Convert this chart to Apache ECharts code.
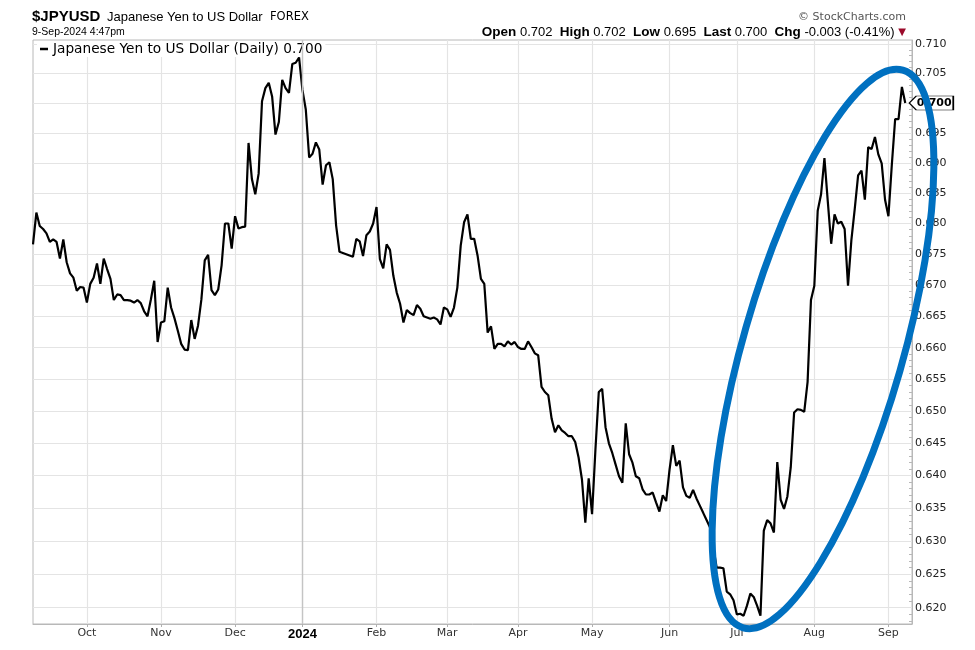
<!DOCTYPE html>
<html><head><meta charset="utf-8">
<script src="https://cdn.jsdelivr.net/npm/echarts@6/dist/echarts.min.js"></script>
<style>html,body{margin:0;padding:0;background:#fff}#c{width:975px;height:650px}</style>
</head><body><div id="c"></div>
<script>
const dates = [
'2023-09-08','2023-09-11','2023-09-12','2023-09-13','2023-09-14','2023-09-15','2023-09-18','2023-09-19','2023-09-20','2023-09-21','2023-09-22','2023-09-25','2023-09-26','2023-09-27','2023-09-28','2023-09-29',
'2023-10-02','2023-10-03','2023-10-04','2023-10-05','2023-10-06','2023-10-09','2023-10-10','2023-10-11','2023-10-12','2023-10-13','2023-10-16','2023-10-17','2023-10-18','2023-10-19','2023-10-20','2023-10-23','2023-10-24','2023-10-25','2023-10-26','2023-10-27','2023-10-30','2023-10-31',
'2023-11-01','2023-11-02','2023-11-03','2023-11-06','2023-11-07','2023-11-08','2023-11-09','2023-11-10','2023-11-13','2023-11-14','2023-11-15','2023-11-16','2023-11-17','2023-11-20','2023-11-21','2023-11-22','2023-11-23','2023-11-24','2023-11-27','2023-11-28','2023-11-29','2023-11-30',
'2023-12-01','2023-12-04','2023-12-05','2023-12-06','2023-12-07','2023-12-08','2023-12-11','2023-12-12','2023-12-13','2023-12-14','2023-12-15','2023-12-18','2023-12-19','2023-12-20','2023-12-21','2023-12-22','2023-12-26','2023-12-27','2023-12-28','2023-12-29',
'2024-01-02','2024-01-03','2024-01-04','2024-01-05','2024-01-08','2024-01-09','2024-01-10','2024-01-11','2024-01-12','2024-01-15','2024-01-16','2024-01-17','2024-01-18','2024-01-19','2024-01-22','2024-01-23','2024-01-24','2024-01-25','2024-01-26','2024-01-29','2024-01-30','2024-01-31',
'2024-02-01','2024-02-02','2024-02-05','2024-02-06','2024-02-07','2024-02-08','2024-02-09','2024-02-12','2024-02-13','2024-02-14','2024-02-15','2024-02-16','2024-02-19','2024-02-20','2024-02-21','2024-02-22','2024-02-23','2024-02-26','2024-02-27','2024-02-28','2024-02-29',
'2024-03-01','2024-03-04','2024-03-05','2024-03-06','2024-03-07','2024-03-08','2024-03-11','2024-03-12','2024-03-13','2024-03-14','2024-03-15','2024-03-18','2024-03-19','2024-03-20','2024-03-21','2024-03-22','2024-03-25','2024-03-26','2024-03-27','2024-03-28','2024-03-29',
'2024-04-01','2024-04-02','2024-04-03','2024-04-04','2024-04-05','2024-04-08','2024-04-09','2024-04-10','2024-04-11','2024-04-12','2024-04-15','2024-04-16','2024-04-17','2024-04-18','2024-04-19','2024-04-22','2024-04-23','2024-04-24','2024-04-25','2024-04-26','2024-04-29','2024-04-30',
'2024-05-01','2024-05-02','2024-05-03','2024-05-06','2024-05-07','2024-05-08','2024-05-09','2024-05-10','2024-05-13','2024-05-14','2024-05-15','2024-05-16','2024-05-17','2024-05-20','2024-05-21','2024-05-22','2024-05-23','2024-05-24','2024-05-27','2024-05-28','2024-05-29','2024-05-30','2024-05-31',
'2024-06-03','2024-06-04','2024-06-05','2024-06-06','2024-06-07','2024-06-10','2024-06-11','2024-06-12','2024-06-13','2024-06-14','2024-06-17','2024-06-18','2024-06-19','2024-06-20','2024-06-21','2024-06-24','2024-06-25','2024-06-26','2024-06-27','2024-06-28',
'2024-07-01','2024-07-02','2024-07-03','2024-07-04','2024-07-05','2024-07-08','2024-07-09','2024-07-10','2024-07-11','2024-07-12','2024-07-15','2024-07-16','2024-07-17','2024-07-18','2024-07-19','2024-07-22','2024-07-23','2024-07-24','2024-07-25','2024-07-26','2024-07-29','2024-07-30','2024-07-31',
'2024-08-01','2024-08-02','2024-08-05','2024-08-06','2024-08-07','2024-08-08','2024-08-09','2024-08-12','2024-08-13','2024-08-14','2024-08-15','2024-08-16','2024-08-19','2024-08-20','2024-08-21','2024-08-22','2024-08-23','2024-08-26','2024-08-27','2024-08-28','2024-08-29','2024-08-30',
'2024-09-02','2024-09-03','2024-09-04','2024-09-05','2024-09-06','2024-09-09'
];

const closeValues = [
0.6766,0.6818,0.6796,0.6791,0.6784,0.6770,0.6774,0.6770,0.6743,0.6774,
0.6737,0.6719,0.6712,0.6691,0.6697,0.6696,0.6672,0.6702,0.6712,0.6735,
0.6702,0.6743,0.6726,0.6710,0.6676,0.6685,0.6684,0.6676,0.6676,0.6675,
0.6672,0.6676,0.6671,0.6658,0.6650,0.6677,0.6707,0.6609,0.6640,0.6642,
0.6696,0.6664,0.6647,0.6627,0.6606,0.6597,0.6596,0.6644,0.6614,0.6635,
0.6677,0.6740,0.6749,0.6692,0.6684,0.6693,0.6732,0.6800,0.6800,0.6759,
0.6812,0.6792,0.6794,0.6795,0.6933,0.6873,0.6848,0.6882,0.7003,0.7025,
0.7034,0.7011,0.6947,0.6968,0.7039,0.7025,0.7017,0.7066,0.7068,0.7077,
0.7022,0.6989,0.6909,0.6915,0.6934,0.6922,0.6864,0.6896,0.6901,0.6873,
0.6797,0.6754,0.6752,0.6750,0.6748,0.6746,0.6775,0.6771,0.6747,0.6781,
0.6787,0.6800,0.6827,0.6742,0.6727,0.6766,0.6757,0.6715,0.6688,0.6670,
0.6640,0.6660,0.6655,0.6652,0.6668,0.6662,0.6650,0.6648,0.6646,0.6648,
0.6645,0.6637,0.6664,0.6661,0.6649,0.6664,0.6696,0.6764,0.6802,0.6815,
0.6775,0.6775,0.6748,0.6710,0.6702,0.6624,0.6634,0.6598,0.6606,0.6606,
0.6602,0.6610,0.6605,0.6609,0.6601,0.6598,0.6598,0.6610,0.6601,0.6591,
0.6588,0.6538,0.6530,0.6525,0.6488,0.6467,0.6478,0.6470,0.6466,0.6461,
0.6461,0.6452,0.6428,0.6394,0.6328,0.6396,0.6341,0.6440,0.6530,0.6535,
0.6475,0.6450,0.6435,0.6417,0.6399,0.6389,0.6481,0.6433,0.6420,0.6399,
0.6396,0.6379,0.6371,0.6371,0.6374,0.6359,0.6345,0.6370,0.6361,0.6409,
0.6447,0.6415,0.6423,0.6382,0.6369,0.6366,0.6378,0.6365,0.6354,0.6343,
0.6332,0.6321,0.6291,0.6260,0.6260,0.6259,0.6224,0.6220,0.6211,0.6190,
0.6191,0.6188,0.6203,0.6221,0.6216,0.6203,0.6188,0.6316,0.6332,0.6327,
0.6313,0.6421,0.6363,0.6349,0.6368,0.6413,0.6498,0.6503,0.6502,0.6499,
0.6546,0.6676,0.6699,0.6821,0.6848,0.6908,0.6836,0.6767,0.6815,0.6800,
0.6803,0.6791,0.6699,0.6773,0.6824,0.6879,0.6887,0.6839,0.6926,0.6923,
0.6943,0.6914,0.6899,0.6839,0.6812,0.6896,0.6973,0.6973,0.7027,0.7000
];

const tickLabels = ['0.620','0.625','0.630','0.635','0.640','0.645','0.650','0.655','0.660','0.665','0.670','0.675','0.680','0.685','0.690','0.695','0.700','0.705','0.710'];
const monthStarts = ['2023-10-02','2023-11-01','2023-12-01','2024-01-02','2024-02-01','2024-03-01','2024-04-01','2024-05-01','2024-06-03','2024-07-01','2024-08-01','2024-09-02'];
const monthLabels = ['Oct','Nov','Dec','2024','Feb','Mar','Apr','May','Jun','Jul','Aug','Sep'];
const yearStart = '2024-01-02';
const quoteNames = ['Open','High','Low','Last','Chg'];
const quoteValues = ['0.702','0.702','0.695','0.700','-0.003 (-0.41%)'];
const seriesName = 'Japanese Yen to US Dollar (Daily)';
const axisRange = [0.61757, 0.71068];

const chart = echarts.init(document.getElementById('c'), null, {renderer: 'canvas'});
const logData = closeValues.map(v => Math.log(v));
const tickVals = tickLabels.map(t => Math.log(parseFloat(t)));
const minorVals = [];
for (let k = 618; k <= 710; k++) { if (k % 5 !== 0) minorVals.push(Math.log(k / 1000)); }
const lastVal = closeValues[closeValues.length - 1];
const lastLabel = lastVal.toFixed(3);
const isMonthStart = (idx, val) => monthStarts.indexOf(val) >= 0;

const quoteRich = quoteNames.map((n, i) => '{b|' + n + '} {n|' + quoteValues[i] + '}').join('  ') + ' {r|▼}';

const option = {
  animation: false,
  textStyle: {fontFamily: 'DejaVu Sans'},
  grid: {left: 33, right: 63, top: 40, bottom: 26, show: true, borderColor: '#b8b8b8', borderWidth: 1, backgroundColor: 'transparent'},
  legend: {
    show: true, left: 37, top: 41, padding: [1, 3], itemGap: 4,
    icon: 'rect', itemWidth: 8, itemHeight: 2.5, backgroundColor: '#fff',
    textStyle: {fontFamily: 'DejaVu Sans', fontSize: 13.7, color: '#000'},
    formatter: name => name + ' ' + lastLabel,
    data: [seriesName]
  },
  xAxis: {
    type: 'category', data: dates, boundaryGap: false, max: dates.length + 1,
    axisLine: {show: true, lineStyle: {color: '#b8b8b8'}},
    axisTick: {show: true, interval: isMonthStart, length: 3, lineStyle: {color: '#b0b0b0'}},
    axisLabel: {
      interval: isMonthStart, margin: 4, color: '#333', fontFamily: 'DejaVu Sans', fontSize: 11,
      formatter: v => { const k = monthStarts.indexOf(v); return v === yearStart ? '{y|' + monthLabels[k] + '}' : monthLabels[k]; },
      rich: {y: {fontWeight: 'bold', fontSize: 13, fontFamily: 'Liberation Sans', color: '#000'}}
    },
    splitLine: {show: true, interval: isMonthStart, lineStyle: {color: '#e4e4e4', width: 1.2}}
  },
  yAxis: [{
    type: 'value', position: 'right', min: Math.log(axisRange[0]), max: Math.log(axisRange[1]),
    axisLine: {show: true, lineStyle: {color: '#b8b8b8'}},
    axisTick: {show: false, customValues: tickVals},
    axisLabel: {customValues: tickVals, margin: 3, color: '#222', fontFamily: 'DejaVu Sans', fontSize: 11,
      formatter: v => Math.exp(v).toFixed(3)},
    splitLine: {show: true, lineStyle: {color: '#e4e4e4', width: 1.2}}
  }, {
    type: 'value', position: 'right', min: Math.log(axisRange[0]), max: Math.log(axisRange[1]),
    axisLine: {show: false},
    axisTick: {show: true, inside: true, length: 3, customValues: minorVals, lineStyle: {color: '#b8b8b8'}},
    axisLabel: {show: false},
    splitLine: {show: false}
  }],
  series: [{
    name: seriesName, type: 'line', data: logData, yAxisIndex: 0,
    symbol: 'none', showSymbol: false,
    lineStyle: {color: '#000', width: 2.2}, itemStyle: {color: '#000'},
    markLine: {
      silent: true, symbol: 'none', label: {show: false},
      lineStyle: {color: '#c4c4c4', type: 'solid', width: 1.4},
      data: [{xAxis: yearStart}]
    },
    markPoint: {
      silent: true,
      symbol: 'path://M0,7 L7,0 L44,0 L44,14 L7,14 Z',
      symbolSize: [44, 14], symbolOffset: [26, 0],
      itemStyle: {color: '#fff', borderColor: '#000', borderWidth: 1},
      label: {show: true, position: 'inside', offset: [3, 0], formatter: lastLabel, color: '#000', fontWeight: 'bold', fontSize: 11, fontFamily: 'DejaVu Sans'},
      data: [{coord: [dates[dates.length - 1], Math.log(lastVal)]}]
    },
    z: 3
  }],
  graphic: [
    {type: 'text', x: 32, y: 17, style: {text: '$JPYUSD', font: 'bold 15px "Liberation Sans"', fill: '#000', verticalAlign: 'middle'}},
    {type: 'text', x: 107, y: 17.5, style: {text: 'Japanese Yen to US Dollar', font: '13px "Liberation Sans"', fill: '#000', verticalAlign: 'middle'}},
    {type: 'text', x: 270, y: 17.5, style: {text: 'FOREX', font: '11.5px "DejaVu Sans"', fill: '#000', verticalAlign: 'middle'}},
    {type: 'text', x: 32, y: 32.5, style: {text: '9-Sep-2024 4:47pm', font: '10.5px "Liberation Sans"', fill: '#000', verticalAlign: 'middle'}},
    {type: 'text', x: 906, y: 17, style: {text: '© StockCharts.com', font: '11px "DejaVu Sans"', fill: '#555', align: 'right', verticalAlign: 'middle'}},
    {type: 'text', x: 906, y: 32, style: {text: quoteRich, align: 'right', verticalAlign: 'middle', font: '13px "Liberation Sans"', fill: '#000',
      rich: {b: {fontWeight: 'bold', fontSize: 13.5, fontFamily: 'Liberation Sans', fill: '#000'},
             n: {fontSize: 13, fontFamily: 'Liberation Sans', fill: '#000'},
             r: {fontSize: 10, fontFamily: 'DejaVu Sans', fill: '#9b0a2a'}}}},
    {type: 'ellipse', x: 823, y: 349, rotation: -0.279, shape: {cx: 0, cy: 0, rx: 80, ry: 290},
     style: {fill: 'none', stroke: '#0070c0', lineWidth: 7}, z: 100, silent: true}
  ]
};
chart.setOption(option);
</script>
</body></html>
